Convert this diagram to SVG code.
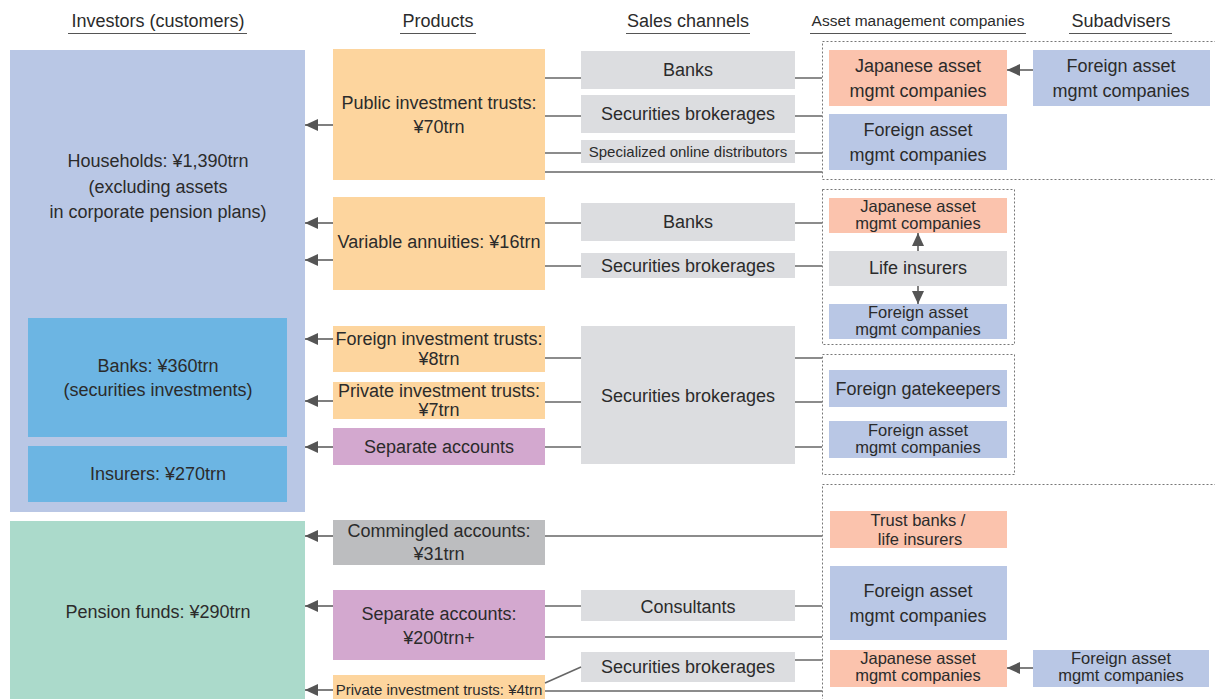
<svg xmlns="http://www.w3.org/2000/svg" width="1215" height="699" viewBox="0 0 1215 699">
<defs>
<marker id="ah" markerUnits="userSpaceOnUse" markerWidth="13" markerHeight="12" viewBox="0 0 13 12" refX="13" refY="6" orient="auto"><path d="M0,0 L13,6 L0,12 z" fill="#555"/></marker>
</defs>
<style>
text{font-family:"Liberation Sans",Arial,sans-serif;font-size:18px;fill:#2b2b2b;text-anchor:middle}
.sm{font-size:15px}
.hs{font-size:15.5px}
.tt{font-size:16.5px}
.ul{stroke:#555;stroke-width:1.2}
.ln{stroke:#666;stroke-width:1.5;fill:none}
.ar{stroke:#555;stroke-width:1.5;fill:none;marker-end:url(#ah)}
.dot{fill:none;stroke:#777;stroke-width:1;stroke-dasharray:2 2}
.hh{fill:#b9c7e5}
.bk{fill:#6cb5e3}
.pf{fill:#abdacb}
.or{fill:#fdd59e}
.pu{fill:#d3a8cf}
.gy{fill:#bcbdbf}
.lg{fill:#dcdde0}
.sa{fill:#fbc3ad}
.bl{fill:#b9c7e5}
</style>

<g id="headers">
<text x="158" y="27">Investors (customers)</text><line class="ul" x1="68" y1="33.5" x2="247" y2="33.5"/>
<text x="438" y="27">Products</text><line class="ul" x1="400" y1="33.5" x2="476" y2="33.5"/>
<text x="688" y="27">Sales channels</text><line class="ul" x1="626" y1="33.5" x2="750" y2="33.5"/>
<text x="918" y="26" class="hs">Asset management companies</text><line class="ul" x1="810" y1="33.5" x2="1026" y2="33.5"/>
<text x="1121" y="27">Subadvisers</text><line class="ul" x1="1069" y1="33.5" x2="1172" y2="33.5"/>
</g>

<g id="households"><rect class="hh" x="10" y="50" width="295" height="462"/>
<text x="158" y="167">Households: ¥1,390trn</text><text x="158" y="193">(excluding assets</text><text x="158" y="218">in corporate pension plans)</text></g>
<g id="banks-inv"><rect class="bk" x="28" y="318" width="259" height="119"/><text x="158" y="372">Banks: ¥360trn</text><text x="158" y="396">(securities investments)</text></g>
<g id="insurers"><rect class="bk" x="28" y="446" width="259" height="56"/><text x="158" y="480">Insurers: ¥270trn</text></g>
<g id="pension"><rect class="pf" x="10" y="521" width="295" height="180"/><text x="158" y="618">Pension funds: ¥290trn</text></g>

<g id="p-public"><rect class="or" x="333" y="49" width="212" height="131"/><text x="439" y="109">Public investment trusts:</text><text x="439" y="133">¥70trn</text></g>
<g id="p-variable"><rect class="or" x="333" y="197" width="212" height="93"/><text x="439" y="248">Variable annuities: ¥16trn</text></g>
<g id="p-foreign"><rect class="or" x="333" y="326" width="212" height="46"/><text x="439" y="345">Foreign investment trusts:</text><text x="439" y="365">¥8trn</text></g>
<g id="p-private"><rect class="or" x="333" y="382" width="212" height="37"/><text x="439" y="397">Private investment trusts:</text><text x="439" y="416">¥7trn</text></g>
<g id="p-separate"><rect class="pu" x="333" y="428" width="212" height="37"/><text x="439" y="453">Separate accounts</text></g>
<g id="p-commingled"><rect class="gy" x="333" y="520" width="212" height="45"/><text x="439" y="537">Commingled accounts:</text><text x="439" y="560">¥31trn</text></g>
<g id="p-separate2"><rect class="pu" x="333" y="590" width="212" height="70"/><text x="439" y="620">Separate accounts:</text><text x="439" y="644">¥200trn+</text></g>
<g id="p-private2"><rect class="or" x="333" y="675" width="212" height="26"/><text x="439" y="695" class="sm">Private investment trusts: ¥4trn</text></g>

<g id="s-banks"><rect class="lg" x="581" y="51" width="214" height="38"/><text x="688" y="76">Banks</text></g>
<g id="s-sec"><rect class="lg" x="581" y="95" width="214" height="38"/><text x="688" y="120">Securities brokerages</text></g>
<g id="s-online"><rect class="lg" x="581" y="140" width="214" height="23"/><text x="688" y="157" class="sm">Specialized online distributors</text></g>
<g id="s-banks2"><rect class="lg" x="581" y="203" width="214" height="38"/><text x="688" y="228">Banks</text></g>
<g id="s-sec2"><rect class="lg" x="581" y="253" width="214" height="25"/><text x="688" y="272">Securities brokerages</text></g>
<g id="s-sec3"><rect class="lg" x="581" y="326" width="214" height="138"/><text x="688" y="402">Securities brokerages</text></g>
<g id="s-consult"><rect class="lg" x="581" y="590" width="214" height="31"/><text x="688" y="613">Consultants</text></g>
<g id="s-sec4"><rect class="lg" x="581" y="652" width="214" height="30"/><text x="688" y="673">Securities brokerages</text></g>

<g id="group1"><rect class="dot" x="822.5" y="41.5" width="400" height="138"/></g>
<g id="a-jp1"><rect class="sa" x="829" y="50" width="178" height="56"/><text x="918" y="72">Japanese asset</text><text x="918" y="97">mgmt companies</text></g>
<g id="sub-f1"><rect class="bl" x="1033" y="50" width="177" height="56"/><text x="1121" y="72">Foreign asset</text><text x="1121" y="97">mgmt companies</text></g>
<g id="a-f1"><rect class="bl" x="829" y="114" width="178" height="56"/><text x="918" y="136">Foreign asset</text><text x="918" y="161">mgmt companies</text></g>

<g id="group2"><rect class="dot" x="822.5" y="189.5" width="192" height="155"/></g>
<g id="a-jp2"><rect class="sa" x="829" y="198" width="178" height="35"/><text x="918" y="212" class="tt">Japanese asset</text><text x="918" y="229" class="tt">mgmt companies</text></g>
<g id="a-life"><rect class="lg" x="829" y="251" width="178" height="35"/><text x="918" y="274">Life insurers</text></g>
<g id="a-f2"><rect class="bl" x="829" y="304" width="178" height="35"/><text x="918" y="318" class="tt">Foreign asset</text><text x="918" y="335" class="tt">mgmt companies</text></g>

<g id="group3"><rect class="dot" x="822.5" y="354.5" width="192" height="120"/></g>
<g id="a-gate"><rect class="bl" x="829" y="370" width="178" height="37"/><text x="918" y="395">Foreign gatekeepers</text></g>
<g id="a-f3"><rect class="bl" x="829" y="421" width="178" height="37"/><text x="918" y="436" class="tt">Foreign asset</text><text x="918" y="453" class="tt">mgmt companies</text></g>

<g id="group4"><rect class="dot" x="822.5" y="484.5" width="400" height="300"/></g>
<g id="a-trust"><rect class="sa" x="830" y="511" width="177" height="37"/><text x="918" y="526" class="tt">Trust banks /</text><text x="920" y="545" class="tt">life insurers</text></g>
<g id="a-f4"><rect class="bl" x="830" y="566" width="177" height="74"/><text x="918" y="597">Foreign asset</text><text x="918" y="622">mgmt companies</text></g>
<g id="a-jp4"><rect class="sa" x="830" y="650" width="177" height="37"/><text x="918" y="664" class="tt">Japanese asset</text><text x="918" y="681" class="tt">mgmt companies</text></g>
<g id="sub-f4"><rect class="bl" x="1033" y="650" width="176" height="37"/><text x="1121" y="664" class="tt">Foreign asset</text><text x="1121" y="681" class="tt">mgmt companies</text></g>

<g id="connectors">
<line class="ar" x1="333" y1="125" x2="305" y2="125"/>
<line class="ar" x1="333" y1="223" x2="305" y2="223"/>
<line class="ar" x1="333" y1="260" x2="305" y2="260"/>
<line class="ar" x1="333" y1="339" x2="305" y2="339"/>
<line class="ar" x1="333" y1="401" x2="305" y2="401"/>
<line class="ar" x1="333" y1="447" x2="305" y2="447"/>
<line class="ar" x1="333" y1="536" x2="305" y2="536"/>
<line class="ar" x1="333" y1="606" x2="305" y2="606"/>
<line class="ar" x1="333" y1="690" x2="305" y2="690"/>

<line class="ln" x1="545" y1="78" x2="581" y2="78"/>
<line class="ln" x1="545" y1="116" x2="581" y2="116"/>
<line class="ln" x1="545" y1="153" x2="581" y2="153"/>
<line class="ln" x1="795" y1="78" x2="822" y2="78"/>
<line class="ln" x1="795" y1="116" x2="822" y2="116"/>
<line class="ln" x1="795" y1="153" x2="822" y2="153"/>
<line class="ln" x1="545" y1="172" x2="822" y2="172"/>

<line class="ln" x1="545" y1="223" x2="581" y2="223"/>
<line class="ln" x1="545" y1="266" x2="581" y2="266"/>
<line class="ln" x1="795" y1="223" x2="822" y2="223"/>
<line class="ln" x1="795" y1="266" x2="822" y2="266"/>

<line class="ln" x1="545" y1="358" x2="581" y2="358"/>
<line class="ln" x1="545" y1="402" x2="581" y2="402"/>
<line class="ln" x1="545" y1="447" x2="581" y2="447"/>
<line class="ln" x1="795" y1="358" x2="822" y2="358"/>
<line class="ln" x1="795" y1="402" x2="822" y2="402"/>
<line class="ln" x1="795" y1="447" x2="822" y2="447"/>

<line class="ln" x1="545" y1="536" x2="822" y2="536"/>
<line class="ln" x1="545" y1="606" x2="581" y2="606"/>
<line class="ln" x1="795" y1="606" x2="822" y2="606"/>
<line class="ln" x1="545" y1="637" x2="822" y2="637"/>
<line class="ln" x1="545" y1="683" x2="581" y2="667"/>
<line class="ln" x1="795" y1="660" x2="822" y2="660"/>
<line class="ln" x1="545" y1="691" x2="822" y2="691"/>

<line class="ar" x1="1033" y1="70" x2="1007" y2="70"/>
<line class="ar" x1="1033" y1="668" x2="1007" y2="668"/>
<line class="ar" x1="918" y1="251" x2="918" y2="233"/>
<line class="ar" x1="918" y1="286" x2="918" y2="304"/>
</g>
</svg>
